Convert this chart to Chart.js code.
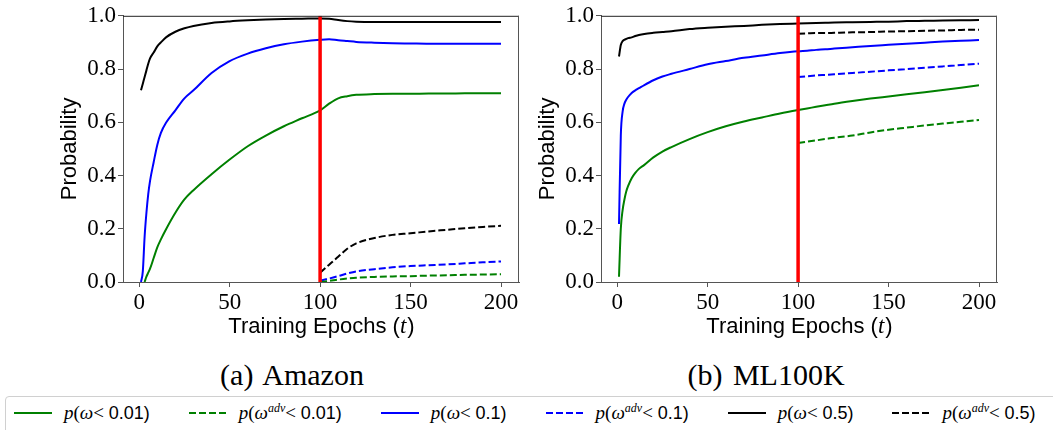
<!DOCTYPE html>
<html>
<head>
<meta charset="utf-8">
<script src="https://cdn.jsdelivr.net/npm/chart.js@4.4.1/dist/chart.umd.min.js"></script>
<style>
  body { margin: 0; width: 1053px; height: 430px; overflow: hidden; background: #fff; position: relative; }
  canvas { position: absolute; top: 0; }
  #amazon { left: 0; }
  #ml100k { left: 478px; }
  .caption { position: absolute; top: 358px; width: 240px; line-height: 34px; text-align: center;
             font: 30px "Liberation Serif", serif; color: #000; word-spacing: 3px; }
  .legend-box { position: absolute; left: 5px; top: 396px; width: 1070px; height: 60px;
                border: 1px solid #d0d0d0; border-radius: 4px; }
  .legend { position: absolute; left: 14px; top: 399px; height: 28px; display: flex; align-items: center; gap: 39px; }
  .item { display: flex; align-items: center; white-space: nowrap; }
  .item svg { margin-right: 12px; }
  .lbl { font: 19px "Liberation Serif", serif; color: #000; }
  .lbl sup { font-size: 12px; font-style: italic; vertical-align: 7px; line-height: 0; }
  .num { font: 18px "Liberation Sans", sans-serif; }
</style>
</head>
<body>
<canvas id="amazon" width="540" height="345"></canvas>
<canvas id="ml100k" width="540" height="345"></canvas>
<div class="caption" style="left:172px">(a) Amazon</div>
<div class="caption" style="left:646px">(b) ML100K</div>
<div class="legend-box"></div>
<div class="legend" id="legend"></div>

<script>
const epochs = [1, 2, 3, 4, 5, 6, 8, 10, 12, 15, 20, 25, 30, 40, 50, 60, 70, 80, 90, 100,
                105, 110, 115, 120, 130, 140, 150, 160, 170, 180, 190, 200];
const advEpochs = [100, 105, 110, 115, 120, 130, 140, 150, 160, 170, 180, 190, 200];
const attackEpoch = 100;

const xTicks = [0, 50, 100, 150, 200];
const yTicks = [0, 0.2, 0.4, 0.6, 0.8, 1.0];

const thresholds = ["0.01", "0.1", "0.5"];
const seriesColors = ["#008000", "#0000ff", "#000000"];

// (a) Amazon
const amazonW001 = [null, null, 0.0, 0.02, 0.035, 0.05, 0.09, 0.13, 0.16, 0.2, 0.26, 0.31, 0.345, 0.405, 0.46, 0.51, 0.55, 0.585, 0.615, 0.645,
                    0.67, 0.69, 0.698, 0.703, 0.706, 0.707, 0.707, 0.708, 0.708, 0.709, 0.709, 0.709];
const amazonW01 = [0.0, 0.04, 0.17, 0.26, 0.33, 0.38, 0.45, 0.515, 0.56, 0.6, 0.645, 0.69, 0.72, 0.785, 0.83, 0.858, 0.878, 0.893, 0.903, 0.91,
                   0.912, 0.908, 0.905, 0.902, 0.899, 0.897, 0.896, 0.895, 0.895, 0.895, 0.895, 0.895];
const amazonW05 = [0.72, 0.745, 0.77, 0.795, 0.82, 0.84, 0.862, 0.885, 0.9, 0.92, 0.94, 0.953, 0.962, 0.973, 0.979, 0.983, 0.986, 0.988, 0.989, 0.99,
                   0.989, 0.984, 0.98, 0.978, 0.977, 0.977, 0.977, 0.977, 0.977, 0.977, 0.977, 0.977];
const amazonAdv001 = [0.0, 0.004, 0.009, 0.013, 0.016, 0.019, 0.021, 0.022, 0.024, 0.025, 0.027, 0.028, 0.029];
const amazonAdv01 = [0.005, 0.013, 0.022, 0.032, 0.04, 0.048, 0.055, 0.06, 0.063, 0.066, 0.07, 0.074, 0.077];
const amazonAdv05 = [0.035, 0.065, 0.095, 0.125, 0.145, 0.165, 0.177, 0.183, 0.19, 0.196, 0.202, 0.207, 0.211];

// (b) ML100K
const mlW001 = [0.02, 0.2, 0.27, 0.31, 0.34, 0.36, 0.39, 0.41, 0.425, 0.44, 0.468, 0.49, 0.507, 0.537, 0.563, 0.585, 0.603, 0.618, 0.633, 0.646,
                0.652, 0.658, 0.664, 0.67, 0.68, 0.689, 0.697, 0.705, 0.713, 0.721, 0.73, 0.739];
const mlW01 = [0.218, 0.55, 0.64, 0.67, 0.685, 0.695, 0.71, 0.72, 0.728, 0.74, 0.758, 0.772, 0.782, 0.8, 0.818, 0.83, 0.842, 0.851, 0.86, 0.867,
               0.869, 0.872, 0.874, 0.877, 0.882, 0.887, 0.891, 0.895, 0.899, 0.903, 0.906, 0.909];
const mlW05 = [0.847, 0.89, 0.905, 0.91, 0.913, 0.916, 0.919, 0.924, 0.928, 0.932, 0.936, 0.939, 0.942, 0.95, 0.955, 0.959, 0.962, 0.966, 0.969, 0.971,
               0.972, 0.973, 0.974, 0.975, 0.976, 0.977, 0.978, 0.98, 0.981, 0.982, 0.983, 0.984];
const mlAdv001 = [0.522, 0.527, 0.532, 0.537, 0.542, 0.55, 0.562, 0.572, 0.58, 0.588, 0.595, 0.602, 0.609];
const mlAdv01 = [0.77, 0.773, 0.776, 0.778, 0.78, 0.785, 0.79, 0.795, 0.8, 0.805, 0.81, 0.815, 0.82];
const mlAdv05 = [0.933, 0.934, 0.935, 0.935, 0.936, 0.938, 0.939, 0.941, 0.942, 0.944, 0.945, 0.947, 0.948];

const ADV_DASH = [7, 3];
const tickFont = { family: "Liberation Serif", size: 23 };
const titleFont = { family: "Liberation Sans", size: 22 };

function points(xs, ys) {
    return xs.map((x, i) => ({ x: x, y: ys[i] })).filter((p) => p.y !== null);
}

// top and right spines (Chart.js only draws the axis borders)
const framePlugin = {
    id: "frame",
    afterDatasetsDraw(chart) {
        const { ctx, chartArea: a } = chart;
        ctx.save();
        ctx.lineWidth = 1;
        ctx.strokeStyle = "#222";
        ctx.beginPath();
        ctx.moveTo(a.left, a.top + 0.5);
        ctx.lineTo(a.right, a.top + 0.5);
        ctx.stroke();
        ctx.strokeStyle = "#555";
        ctx.beginPath();
        ctx.moveTo(a.right - 0.5, a.top);
        ctx.lineTo(a.right - 0.5, a.bottom);
        ctx.stroke();
        ctx.restore();
    },
};

// x-axis title with an italic math "t", which a single-font axis title cannot do
const xTitlePlugin = {
    id: "xTitle",
    afterDraw(chart) {
        const { ctx, chartArea: a } = chart;
        const xs = chart.scales.x;
        const parts = [
            { text: "Training Epochs (", font: "22px 'Liberation Sans'" },
            { text: "t", font: "italic 23px 'Liberation Serif'" },
            { text: ")", font: "22px 'Liberation Sans'" },
        ];
        ctx.save();
        ctx.fillStyle = "#000";
        ctx.textBaseline = "alphabetic";
        let total = 0;
        parts.forEach((p) => { ctx.font = p.font; p.w = ctx.measureText(p.text).width; total += p.w; });
        let x = (a.left + a.right) / 2 - total / 2;
        const y = xs.bottom - 12;
        parts.forEach((p) => { ctx.font = p.font; ctx.fillText(p.text, x, y); x += p.w + (p.text === "t" ? 1 : 0); });
        ctx.restore();
    },
};

function renderPanel(canvasId, solid, adv) {
    const datasets = [
        {
            data: [{ x: attackEpoch, y: 0 }, { x: attackEpoch, y: 1 }],
            borderColor: "#ff0000",
            borderWidth: 3.5,
        },
    ];
    solid.forEach((ys, i) => {
        datasets.push({ data: points(epochs, ys), borderColor: seriesColors[i], borderWidth: 2,
                        cubicInterpolationMode: "monotone" });
    });
    adv.forEach((ys, i) => {
        datasets.push({ data: points(advEpochs, ys), borderColor: seriesColors[i], borderWidth: 2,
                        borderDash: ADV_DASH, cubicInterpolationMode: "monotone" });
    });

    return new Chart(document.getElementById(canvasId), {
        type: "line",
        data: { datasets },
        plugins: [framePlugin, xTitlePlugin],
        options: {
            responsive: false,
            animation: false,
            devicePixelRatio: 1,
            layout: { padding: { left: 0, top: 13, right: 21, bottom: 0 } },
            elements: { point: { radius: 0 } },
            plugins: { legend: { display: false }, tooltip: { enabled: false } },
            scales: {
                x: {
                    type: "linear",
                    min: -8.95,
                    max: 209.95,
                    afterBuildTicks: (s) => { s.ticks = xTicks.map((v) => ({ value: v })); },
                    afterFit: (s) => { s.height = 63; },
                    grid: { drawOnChartArea: false, tickLength: 5, color: "#555" },
                    border: { color: "#555" },
                    ticks: { font: tickFont, color: "#000", padding: 2, maxRotation: 0 },
                    title: { display: false },
                },
                y: {
                    min: 0,
                    max: 1,
                    afterBuildTicks: (s) => { s.ticks = yTicks.map((v) => ({ value: v })); },
                    afterFit: (s) => { s.width = 123; },
                    grid: { drawOnChartArea: false, tickLength: 5, color: "#555" },
                    border: { color: "#555" },
                    ticks: { font: tickFont, color: "#000", padding: 2, callback: (v) => v.toFixed(1) },
                    title: { display: true, text: "Probability", font: titleFont, color: "#000",
                             padding: { top: 57, bottom: 0 } },
                },
            },
        },
    });
}

// shared legend below both panels
const legend = document.getElementById("legend");
thresholds.forEach((th, i) => {
    [false, true].forEach((isAdv) => {
        const item = document.createElement("div");
        item.className = "item";
        const dash = isAdv ? ` stroke-dasharray="${ADV_DASH.join(" ")}"` : "";
        const omega = isAdv ? "<i>ω</i><sup>adv</sup>" : "<i>ω</i>";
        item.innerHTML =
            `<svg width="38" height="4"><line x1="0" y1="2" x2="38" y2="2" stroke="${seriesColors[i]}" stroke-width="2"${dash}/></svg>` +
            `<span class="lbl"><i>p</i>(${omega}&lt; <span class="num">${th})</span></span>`;
        legend.appendChild(item);
    });
});

Promise.all([
    document.fonts.load("23px 'Liberation Serif'"),
    document.fonts.load("italic 23px 'Liberation Serif'"),
    document.fonts.load("22px 'Liberation Sans'"),
]).catch(() => {}).then(() => {
    renderPanel("amazon", [amazonW001, amazonW01, amazonW05], [amazonAdv001, amazonAdv01, amazonAdv05]);
    renderPanel("ml100k", [mlW001, mlW01, mlW05], [mlAdv001, mlAdv01, mlAdv05]);
});
</script>
</body>
</html>
